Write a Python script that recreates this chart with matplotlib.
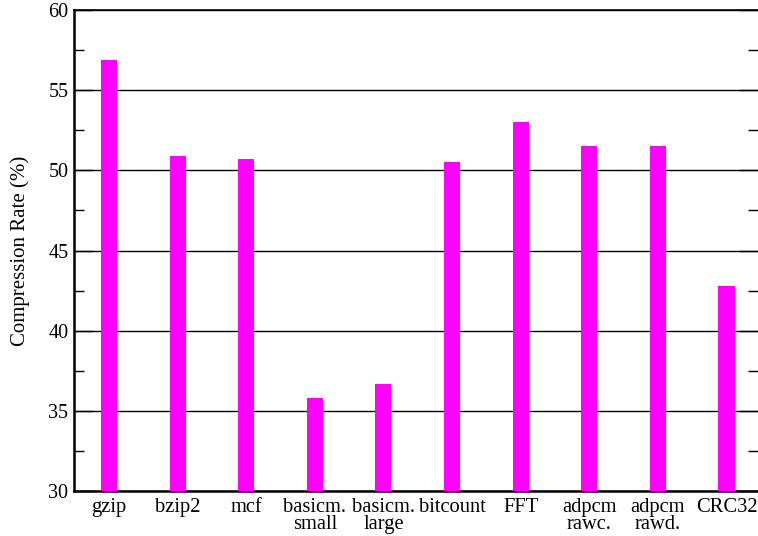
import matplotlib
matplotlib.use("Agg")
import matplotlib.pyplot as plt
from matplotlib.ticker import MultipleLocator

benchmarks = ["gzip", "bzip2", "mcf", "basicm.\nsmall", "basicm.\nlarge",
              "bitcount", "FFT", "adpcm\nrawc.", "adpcm\nrawd.", "CRC32"]
rates = [56.9, 50.9, 50.7, 35.8, 36.7, 50.5, 53.0, 51.5, 51.5, 42.8]

plt.rcParams["font.family"] = ["Liberation Serif", "DejaVu Serif"]

fig = plt.figure(figsize=(7.58, 5.36), dpi=100)
ax = fig.add_axes([74 / 758, 1 - 491 / 536, 684 / 758, 481 / 536])

x = list(range(len(benchmarks)))
ax.bar(x, rates, width=0.235, color="#ff00ff", zorder=3)

ax.set_ylim(30, 60)
ax.set_xlim(-0.51, 9.46)
ax.yaxis.set_major_locator(MultipleLocator(5))
ax.yaxis.set_minor_locator(MultipleLocator(2.5))
ax.grid(axis="y", which="major", color="black", linewidth=1.0, zorder=1)

ax.set_xticks(x)
ax.set_xticklabels(benchmarks, fontsize=14.8, linespacing=0.85)
ax.tick_params(axis="x", length=0, pad=5)
ax.tick_params(axis="y", which="major", direction="in", length=14, width=1,
               labelsize=14.5, right=True, pad=4)
ax.tick_params(axis="y", which="minor", direction="in", length=7, width=1,
               right=True)

for side in ["left", "bottom"]:
    ax.spines[side].set_linewidth(1.8)
ax.spines["top"].set_linewidth(1.2)
ax.spines["right"].set_visible(False)

# ylabel sits further out to the left in the original
ax.set_ylabel("Compression Rate (%)", fontsize=15, labelpad=13)

fig.savefig("out.png", dpi=100)
